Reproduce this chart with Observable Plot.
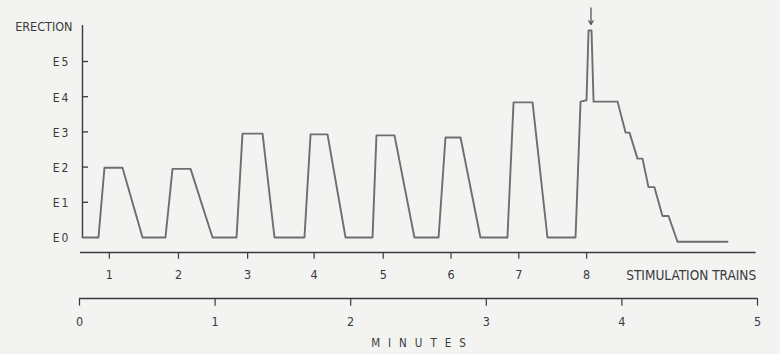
<!DOCTYPE html>
<html>
<head>
<meta charset="utf-8">
<script src="https://cdn.jsdelivr.net/npm/d3@7"></script>
<script src="https://cdn.jsdelivr.net/npm/@observablehq/plot@0.6"></script>
<style>
  html, body { margin: 0; padding: 0; background: #f3f3f1; }
  #chart svg { display: block; }
  .spaced-e text { letter-spacing: 2px; }
  .spaced-min text { letter-spacing: 8px; }
</style>
</head>
<body>
<div id="chart"></div>
<script>
// ---- data ----
// trace: time in minutes, erection grade (E0..E5)
const traceMinutes = [0.022, 0.140, 0.184, 0.317, 0.465, 0.634, 0.686, 0.819, 0.981,
  1.158, 1.202, 1.350, 1.438, 1.659, 1.704, 1.829, 1.962, 2.161, 2.190, 2.323, 2.470,
  2.648, 2.699, 2.810, 2.957, 3.156, 3.201, 3.341, 3.451, 3.658, 3.695, 3.739, 3.754,
  3.776, 3.791, 3.968, 4.027, 4.056, 4.115, 4.152, 4.196, 4.240, 4.299, 4.344, 4.410, 4.779];
const traceErection = [0, 0, 1.98, 1.98, 0, 0, 1.95, 1.95, 0,
  0, 2.95, 2.95, 0, 0, 2.93, 2.93, 0, 0, 2.90, 2.90, 0,
  0, 2.84, 2.84, 0, 0, 3.84, 3.84, 0, 0, 3.86, 3.90, 5.88,
  5.88, 3.86, 3.86, 2.98, 2.98, 2.24, 2.24, 1.43, 1.43, 0.61, 0.61, -0.12, -0.12];

const yTickValues = [0, 1, 2, 3, 4, 5];
const yTickLabels = ["E0", "E1", "E2", "E3", "E4", "E5"];

const stimTrains = [1, 2, 3, 4, 5, 6, 7, 8];
const stimMinutes = [0.22, 0.73, 1.24, 1.73, 2.24, 2.74, 3.24, 3.74];

const minuteTicks = [0, 1, 2, 3, 4, 5];

const arrowMinute = 3.772; // arrow over the spike of train 8

// ---- layout constants (data units of the scales) ----
const yAxisAt = 0.022, yAxisTop = 6.02, yTickLen = 0.045;
const stimAxisAt = -0.426, stimTickEnd = -0.62, stimAxisStart = 0.007, stimAxisEnd = 4.99;
const minAxisAt = -1.733, minTickEnd = -1.95;

const font = "'DejaVu Sans Condensed', 'Liberation Sans Narrow', 'DejaVu Sans', sans-serif";
const ink = "#3a3a3a";
const traceColor = "#6e6e6e";

const trace = traceMinutes.map((m, i) => ({m, e: traceErection[i]}));
const yTicksData = yTickValues.map((v, i) => ({v, label: yTickLabels[i]}));
const stimData = stimTrains.map((t, i) => ({t, m: stimMinutes[i]}));

const plot = Plot.plot({
  width: 780,
  height: 354,
  marginTop: 0, marginRight: 0, marginBottom: 0, marginLeft: 0,
  x: {domain: [0, 5], range: [79, 757], axis: null},
  y: {domain: [0, 5], range: [237, 61], axis: null},
  style: {background: "#f3f3f1", fontFamily: font, color: ink},
  marks: [
    // y axis
    Plot.ruleX([yAxisAt], {y1: -0.02, y2: yAxisTop, stroke: ink, strokeWidth: 1.4}),
    Plot.ruleY(yTicksData.filter(d => d.v > 0), {y: "v", x1: yAxisAt, x2: yAxisAt + yTickLen, stroke: ink, strokeWidth: 1.3}),
    Plot.text(yTicksData, {x: yAxisAt, y: "v", text: "label", dx: -12, dy: 1, textAnchor: "end",
      fontSize: 12, fill: ink, className: "spaced-e"}),
    Plot.text(["ERECTION"], {x: yAxisAt, y: yAxisTop, text: d => d, dx: -10, dy: 1, textAnchor: "end",
      fontSize: 12.5, fill: ink}),

    // stimulation trains axis
    Plot.ruleY([stimAxisAt], {x1: stimAxisStart, x2: stimAxisEnd, stroke: ink, strokeWidth: 1.4}),
    Plot.ruleX(stimData, {x: "m", y1: stimAxisAt, y2: stimTickEnd, stroke: ink, strokeWidth: 1.2}),
    Plot.text(stimData, {x: "m", y: stimAxisAt, text: d => String(d.t), dy: 23, fontSize: 12.5, fill: ink}),
    Plot.text(["STIMULATION TRAINS"], {x: stimAxisEnd, y: stimAxisAt, text: d => d, dy: 23,
      textAnchor: "end", fontSize: 13.5, fill: ink}),

    // minutes axis
    Plot.ruleY([minAxisAt], {x1: 0, x2: 5, stroke: ink, strokeWidth: 1.4}),
    Plot.ruleX(minuteTicks, {x: d => d, y1: minAxisAt, y2: minTickEnd, stroke: ink, strokeWidth: 1.2}),
    Plot.text(minuteTicks, {x: d => d, y: minAxisAt, text: d => String(d), dy: 23, fontSize: 12.5, fill: ink}),
    Plot.text(["MINUTES"], {x: 2.5, y: minAxisAt, text: d => d, dx: 4, dy: 45, fontSize: 11.5,
      fill: ink, className: "spaced-min"}),

    // trace
    Plot.line(trace, {x: "m", y: "e", stroke: traceColor, strokeWidth: 1.9,
      strokeLinejoin: "round", strokeLinecap: "round"}),

    // arrow over the spike
    Plot.arrow([arrowMinute], {x1: d => d, x2: d => d, y1: 6.52, y2: 6.05,
      stroke: "#555", strokeWidth: 1.3, headLength: 5})
  ]
});

document.getElementById("chart").appendChild(plot);
</script>
</body>
</html>
